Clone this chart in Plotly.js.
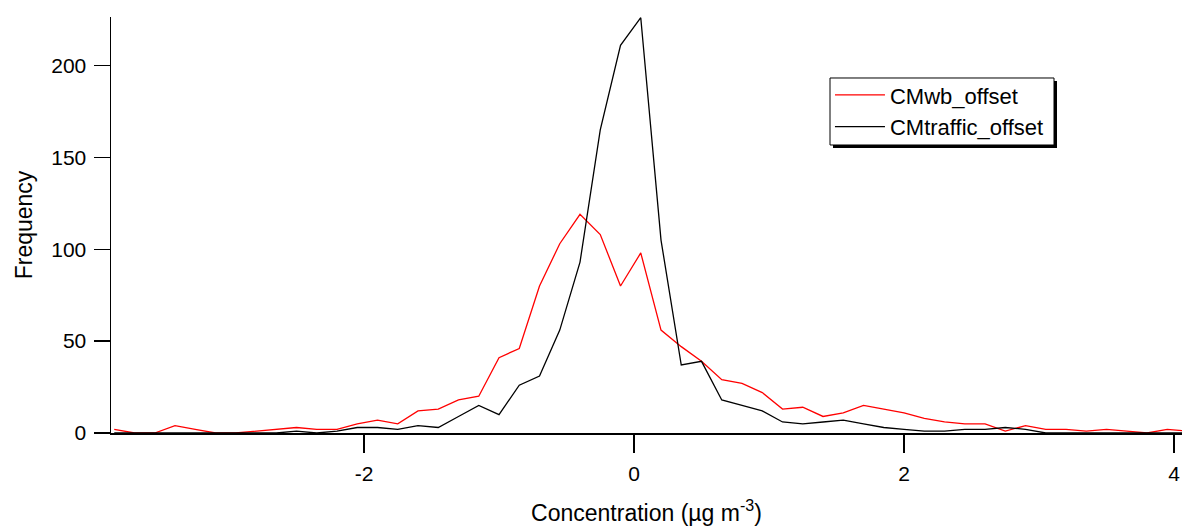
<!DOCTYPE html>
<html>
<head>
<meta charset="utf-8">
<script src="https://cdn.plot.ly/plotly-3.0.1.min.js"></script>
<style>html,body{margin:0;padding:0;background:#fff;}#chart{width:1182px;height:526px;}</style>
</head>
<body>
<div id="chart"></div>
<script>
// Bin centres (µg m-3)
const binCentres = [-3.85,-3.70,-3.55,-3.40,-3.25,-3.10,-2.95,-2.80,-2.65,-2.50,-2.35,-2.20,-2.05,-1.90,-1.75,-1.60,-1.45,-1.30,-1.15,-1.00,-0.85,-0.70,-0.55,-0.40,-0.25,-0.10,0.05,0.20,0.35,0.50,0.65,0.80,0.95,1.10,1.25,1.40,1.55,1.70,1.85,2.00,2.15,2.30,2.45,2.60,2.75,2.90,3.05,3.20,3.35,3.50,3.65,3.80,3.95,4.10];
// Frequencies
const cmWbOffset = [2,0,0,4,2,0,0,1,2,3,2,2,5,7,5,12,13,18,20,41,46,80,103,119,108,80,98,56,47,39,29,27,22,13,14,9,11,15,13,11,8,6,5,5,1,4,2,2,1,2,1,0,2,1];
const cmTrafficOffset = [0,0,0,0,0,0,0,0,0,1,0,1,3,3,2,4,3,9,15,10,26,31,56,93,165,211,226,105,37,39,18,15,12,6,5,6,7,5,3,2,1,1,2,2,3,2,0,0,0,0,0,0,0,0];
const seriesNames = ["CMwb_offset", "CMtraffic_offset"];
const yTicks = [0, 50, 100, 150, 200];
const xTicks = [-2, 0, 2, 4];

const fontFam = '"Liberation Sans", Arial, sans-serif';

const traces = [
  {x: binCentres, y: cmWbOffset, name: seriesNames[0], type: 'scatter', mode: 'lines',
   line: {color: '#ff0000', width: 1.3}},
  {x: binCentres, y: cmTrafficOffset, name: seriesNames[1], type: 'scatter', mode: 'lines',
   line: {color: '#000000', width: 1.3}}
];

const layout = {
  width: 1182, height: 526,
  margin: {l: 111, r: 0, t: 17, b: 93, pad: 0},
  paper_bgcolor: '#ffffff', plot_bgcolor: '#ffffff',
  font: {family: fontFam, color: '#000', size: 21},
  showlegend: true,
  legend: {x: 0.6713, y: 0.8626, xanchor: 'left', yanchor: 'top',
    bgcolor: 'rgba(0,0,0,0)', borderwidth: 0, itemwidth: 50,
    font: {family: fontFam, size: 22, color: '#000'}},
  shapes: [
    // legend frame with drop shadow
    {type: 'rect', xref: 'paper', yref: 'paper', layer: 'above',
     x0: 0.67414, x1: 0.88329, y0: 0.68510, y1: 0.84615,
     fillcolor: '#000', line: {width: 0}},
    {type: 'rect', xref: 'paper', yref: 'paper', layer: 'above',
     x0: 0.67134, x1: 0.88049, y0: 0.69231, y1: 0.85337,
     fillcolor: '#fff', line: {color: '#000', width: 1}}
  ],
  xaxis: {range: [-3.874, 4.059], tickvals: xTicks, ticktext: xTicks.map(String),
    showgrid: false, zeroline: false, showline: true, linecolor: '#000', linewidth: 1.5,
    ticks: 'outside', ticklen: 18, tickwidth: 1.5, tickcolor: '#000', ticklabelstandoff: 3,
    tickfont: {family: fontFam, size: 21},
    title: {text: 'Concentration (µg m<sup>-3</sup>)', font: {family: fontFam, size: 23}, standoff: 22}},
  yaxis: {range: [0, 226.4], tickvals: yTicks, ticktext: yTicks.map(String),
    showgrid: false, zeroline: false, showline: true, linecolor: '#000', linewidth: 1.5,
    ticks: 'outside', ticklen: 16, tickwidth: 1.5, tickcolor: '#000', ticklabelstandoff: 3,
    tickfont: {family: fontFam, size: 21},
    title: {text: 'Frequency', font: {family: fontFam, size: 23}, standoff: 12}}
};

Plotly.newPlot('chart', traces, layout, {displayModeBar: false, staticPlot: true});
</script>
</body>
</html>
